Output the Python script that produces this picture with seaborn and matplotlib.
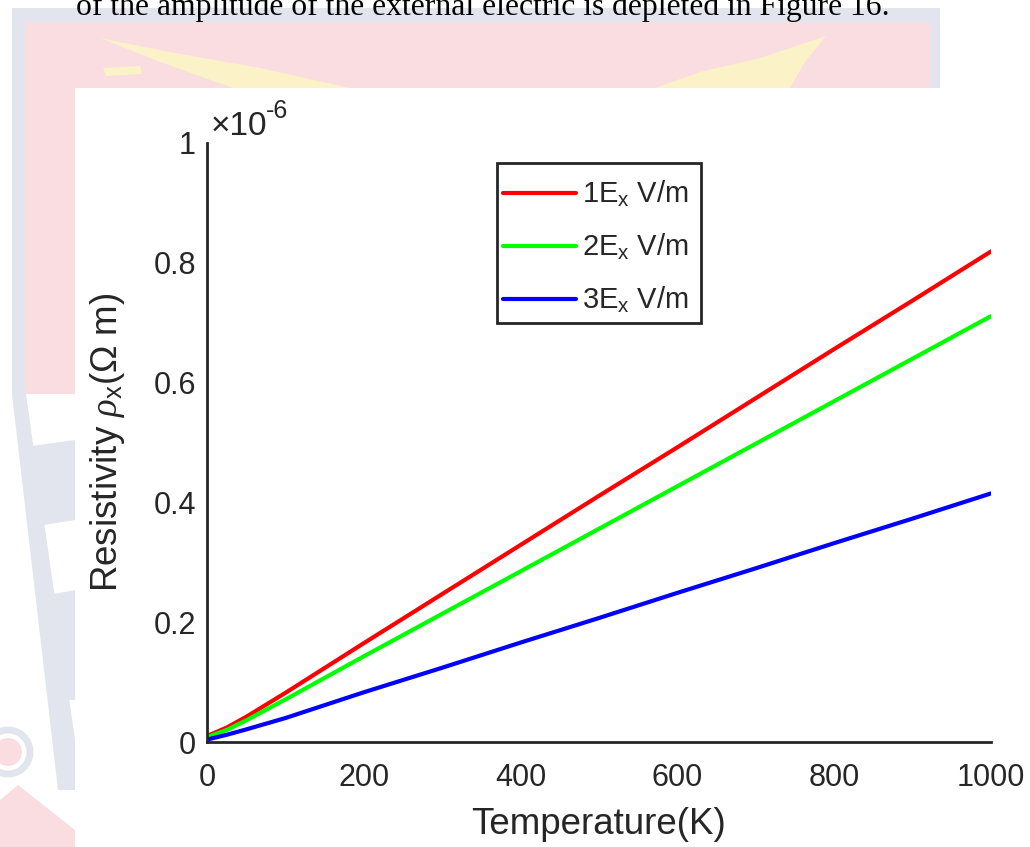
import matplotlib
matplotlib.use("Agg")
import matplotlib.pyplot as plt
import numpy as np
import pandas as pd
import seaborn as sns
from matplotlib.patches import Polygon, Rectangle, Circle

# ---- data (resistivity in units of 1e-6 ohm m) ----
temperature_k = [0, 25, 50, 100, 200, 300, 400, 500, 600, 700, 800, 900, 1000]
rho_1ex = [0.010, 0.024, 0.042, 0.082, 0.165, 0.247, 0.329, 0.411, 0.492, 0.574, 0.656, 0.737, 0.819]
rho_2ex = [0.008, 0.020, 0.036, 0.071, 0.143, 0.214, 0.285, 0.356, 0.427, 0.498, 0.569, 0.640, 0.711]
rho_3ex = [0.004, 0.012, 0.021, 0.040, 0.083, 0.124, 0.166, 0.207, 0.249, 0.290, 0.332, 0.373, 0.415]
field_labels = ["1E$_{\\rm x}$ V/m", "2E$_{\\rm x}$ V/m", "3E$_{\\rm x}$ V/m"]
line_colors = ["#ff0000", "#00ff00", "#0000ff"]
x_ticks = [0, 200, 400, 600, 800, 1000]
y_ticks = [0, 0.2, 0.4, 0.6, 0.8, 1.0]
y_tick_labels = ["0", "0.2", "0.4", "0.6", "0.8", "1"]
body_text = "of the amplitude of the external electric is depleted in Figure 16."

sns.set_style("white")
plt.rcParams["font.family"] = ["Liberation Sans", "DejaVu Sans"]
plt.rcParams["mathtext.fontset"] = "custom"
plt.rcParams["mathtext.rm"] = "Liberation Sans"
plt.rcParams["mathtext.it"] = "Liberation Serif:italic"
plt.rcParams["mathtext.bf"] = "Liberation Sans:bold"

W, H = 1030, 847
fig = plt.figure(figsize=(W / 100, H / 100), dpi=100)
fig.patch.set_facecolor("white")

# ---- page background with faded crest ----
bg = fig.add_axes([0, 0, 1, 1], zorder=0)
bg.set_xlim(0, W)
bg.set_ylim(H, 0)
bg.axis("off")

pink = "#f9dde0"
slate = "#e2e5ee"
cream = "#fbf2c8"

bg.add_patch(Rectangle((12, 8), 928, 390, color=slate, lw=0))
bg.add_patch(Rectangle((25, 22), 905, 372, color=pink, lw=0))
# flames
bg.add_patch(Polygon([(100, 38), (170, 52), (260, 68), (350, 88), (233, 88), (160, 62)],
                     closed=True, color=cream, lw=0))
bg.add_patch(Polygon([(103, 68), (140, 66), (142, 74), (106, 76)], closed=True, color=cream, lw=0))
bg.add_patch(Polygon([(655, 88), (700, 72), (760, 58), (826, 36), (805, 62), (790, 88)],
                     closed=True, color=cream, lw=0))
# lower left shield edges
bg.add_patch(Polygon([(12, 394), (75, 394), (75, 847), (0, 847), (0, 394)], closed=True, color="white", lw=0))
bg.add_patch(Polygon([(12, 394), (26, 394), (75, 740), (75, 790), (58, 790)], closed=True, color=slate, lw=0))
bg.add_patch(Polygon([(24, 447), (75, 440), (75, 520), (32, 527)], closed=True, color=slate, lw=0))
bg.add_patch(Polygon([(38, 597), (75, 590), (75, 700), (52, 700)], closed=True, color=slate, lw=0))
bg.add_patch(Circle((8, 752), 22, fill=False, ec=slate, lw=5))
bg.add_patch(Circle((8, 752), 14, color=pink, lw=0))
bg.add_patch(Polygon([(0, 800), (18, 785), (75, 830), (75, 847), (0, 847)], closed=True, color=pink, lw=0))
# white figure panel
bg.add_patch(Rectangle((75, 88), W - 75, H - 88, color="white", lw=0))
bg.text(76, 15, body_text, fontsize=22.8, family=["Liberation Serif"], color="black",
        ha="left", va="baseline")

# ---- main axes ----
x0, x1, y_top, y_bot = 207, 991, 143, 742
ax = fig.add_axes([x0 / W, 1 - y_bot / H, (x1 - x0) / W, (y_bot - y_top) / H], zorder=1)
ax.set_facecolor("white")

df = pd.DataFrame({
    "Temperature": temperature_k * 3,
    "rho": rho_1ex + rho_2ex + rho_3ex,
    "field": [field_labels[0]] * len(temperature_k)
             + [field_labels[1]] * len(temperature_k)
             + [field_labels[2]] * len(temperature_k),
})
sns.lineplot(data=df, x="Temperature", y="rho", hue="field", hue_order=field_labels,
             palette=line_colors, linewidth=3, ax=ax, legend=False)

ax.set_xlim(0, 1000)
ax.set_ylim(0, 1)
ax.set_xticks(x_ticks)
ax.set_xticklabels([str(t) for t in x_ticks])
ax.set_yticks(y_ticks)
ax.set_yticklabels(y_tick_labels)

axis_col = "#262626"
for side in ["top", "right"]:
    ax.spines[side].set_visible(False)
for side in ["left", "bottom"]:
    ax.spines[side].set_color(axis_col)
    ax.spines[side].set_linewidth(2)
ax.tick_params(axis="both", direction="in", length=7, width=2, color=axis_col,
               labelcolor=axis_col, labelsize=22)
ax.tick_params(axis="x", pad=15)
ax.tick_params(axis="y", pad=8)

ax.set_xlabel("Temperature(K)", fontsize=26.5, color=axis_col, labelpad=10)
ax.set_ylabel("Resistivity $\\rho_{\\rm x}$($\\Omega$ m)", fontsize=26.5, color=axis_col, labelpad=19)

# exponent label drawn with a short hyphen
bg.text(211, 135, "\u00d710", fontsize=24, color=axis_col, ha="left", va="baseline")
bg.text(266, 118, "-6", fontsize=18, color=axis_col, ha="left", va="baseline")

# legend entries without frame; the box is drawn separately
leg = ax.legend(ax.lines[:3], field_labels, loc="upper left",
                bbox_to_anchor=(503 / W, 1 - 179 / H), bbox_transform=fig.transFigure,
                fontsize=21, frameon=False, handlelength=2.5, handletextpad=0.2,
                labelspacing=0.78, borderpad=0, borderaxespad=0)
for t in leg.get_texts():
    t.set_color(axis_col)
fig.add_artist(Rectangle((497 / W, 1 - 323 / H), 204 / W, 160 / H, transform=fig.transFigure,
                         fill=False, ec=axis_col, lw=2, zorder=5))

fig.savefig("out.png", dpi=100, facecolor=fig.get_facecolor())
